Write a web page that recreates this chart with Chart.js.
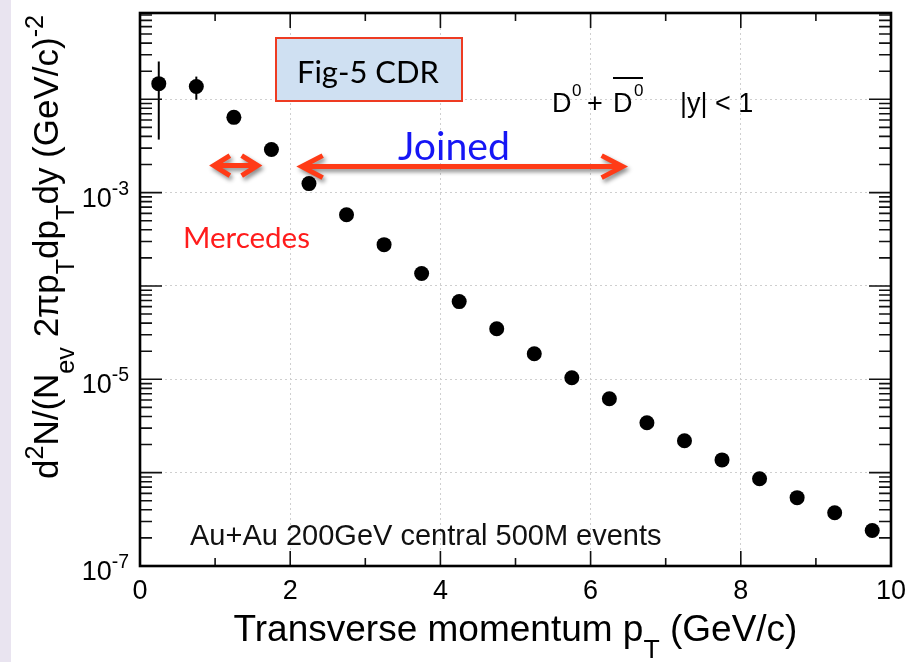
<!DOCTYPE html>
<html><head><meta charset="utf-8">
<script src="https://cdn.jsdelivr.net/npm/chart.js@4.4.1/dist/chart.umd.min.js"></script>
<style>
html,body{margin:0;padding:0;background:#fff;}
#wrap{position:relative;width:910px;height:662px;overflow:hidden;background:#fff;}
#strip{position:absolute;left:0;top:0;width:11px;height:662px;background:#e9e4f0;}
canvas{position:absolute;left:0;top:0;}
</style></head><body>
<div id="wrap"><div id="strip"></div><canvas id="c" width="910" height="662"></canvas></div>
<script>
// ---- data ----
const pt = [0.25,0.75,1.25,1.75,2.25,2.75,3.25,3.75,4.25,4.75,5.25,5.75,6.25,6.75,7.25,7.75,8.25,8.75,9.25,9.75];
const dNdpt = [1.47e-2,1.37e-2,6.4e-3,2.9e-3,1.25e-3,5.8e-4,2.77e-4,1.36e-4,6.8e-5,3.48e-5,1.88e-5,1.04e-5,6.2e-6,3.43e-6,2.2e-6,1.37e-6,8.6e-7,5.4e-7,3.72e-7,2.4e-7];
const errLow  = [3.7e-3,9.9e-3,null,null,null,null,null,null,null,null,null,null,null,null,null,null,null,null,null,null];
const errHigh = [2.54e-2,1.75e-2,null,null,null,null,null,null,null,null,null,null,null,null,null,null,null,null,null,null];
const xTickLabels = ['0','2','4','6','8','10'];
const xGridValues = [2,4,6,8];
const yTickLabelExps = [-7,-5,-3];
const yGridExps = [-6,-5,-4,-3,-2];
const arrowSpans = [{x1:0.93,x2:1.62,y:1.95e-3,hx:16,hy:10},{x1:2.10,x2:6.48,y:1.90e-3,hx:21,hy:11}];

const ROOTF = '"Liberation Sans", Arial, Helvetica, sans-serif';
const SLIDEF = 'Lato, "Open Sans", sans-serif';
const SS = 0.72;

function isDecade(v){ if(!(v>0)) return false; const l=Math.log10(v); return Math.abs(l-Math.round(l))<1e-6; }
function isIntMantissa(v){ const e=Math.floor(Math.log10(v)+1e-9); const m=v/Math.pow(10,e); return Math.abs(m-Math.round(m))<1e-4; }

function segFont(s,size){ const fs = s.t==='n'?size:size*SS; return fs+'px '+ROOTF; }
function richWidth(ctx,segs,size){ let w=0; for(const s of segs){ ctx.font=segFont(s,size); w+=ctx.measureText(s.s).width; } return w; }
function drawRich(ctx,segs,x,y,size){
  let cx=x;
  for(const s of segs){
    ctx.font=segFont(s,size);
    const dy = s.t==='sup' ? -size*0.42 : (s.t==='sub' ? size*0.45 : 0);
    ctx.fillText(s.s,cx,y+dy);
    cx+=ctx.measureText(s.s).width;
  }
}
function fitSize(ctx,text,family,target){ ctx.font='30px '+family; return 30*target/ctx.measureText(text).width; }

const yTitle = [{s:'d',t:'n'},{s:'2',t:'sup'},{s:'N/(N',t:'n'},{s:'ev',t:'sub'},{s:' 2\u03C0p',t:'n'},{s:'T',t:'sub'},{s:'dp',t:'n'},{s:'T',t:'sub'},{s:'dy (GeV/c)',t:'n'},{s:'-2',t:'sup'}];
const xTitle = [{s:'Transverse momentum p',t:'n'},{s:'T',t:'sub'},{s:' (GeV/c)',t:'n'}];

const errPlugin = {
  id:'errbars',
  beforeDatasetsDraw(chart){
    const ctx=chart.ctx, xs=chart.scales.x, ys=chart.scales.y;
    ctx.save(); ctx.strokeStyle='#000'; ctx.lineWidth=2;
    for(let i=0;i<pt.length;i++){
      if(errLow[i]==null) continue;
      const px=xs.getPixelForValue(pt[i]);
      ctx.beginPath(); ctx.moveTo(px,ys.getPixelForValue(errHigh[i])); ctx.lineTo(px,ys.getPixelForValue(errLow[i])); ctx.stroke();
    }
    ctx.restore();
  }
};

const framePlugin = {
  id:'frame',
  afterDraw(chart){
    const ctx=chart.ctx, ca=chart.chartArea, xs=chart.scales.x, ys=chart.scales.y;
    ctx.save();
    ctx.strokeStyle='#111'; ctx.lineWidth=1.6;
    ctx.beginPath();
    for(const t of xs.ticks){
      const px=xs.getPixelForValue(t.value); const L=(Math.round(t.value)%2===0)?15:8;
      ctx.moveTo(px,ca.bottom); ctx.lineTo(px,ca.bottom-L);
      ctx.moveTo(px,ca.top); ctx.lineTo(px,ca.top+L);
    }
    for(const t of ys.ticks){
      const v=t.value; if(!isIntMantissa(v)) continue;
      const py=ys.getPixelForValue(v); if(py<ca.top-0.5||py>ca.bottom+0.5) continue;
      const L=isDecade(v)?22:12;
      ctx.moveTo(ca.left,py); ctx.lineTo(ca.left+L,py);
      ctx.moveTo(ca.right,py); ctx.lineTo(ca.right-L,py);
    }
    ctx.stroke();
    ctx.strokeStyle='#000'; ctx.lineWidth=2.6;
    ctx.strokeRect(ca.left,ca.top,ca.right-ca.left,ca.bottom-ca.top);

    // y tick labels
    ctx.fillStyle='#000'; ctx.textBaseline='alphabetic'; ctx.textAlign='left';
    for(const e of yTickLabelExps){
      const py=ys.getPixelForValue(Math.pow(10,e));
      const sup=String(e);
      ctx.font=(27*SS)+'px '+ROOTF; const w2=ctx.measureText(sup).width;
      ctx.font='27px '+ROOTF; const w1=ctx.measureText('10').width;
      const right=ca.left-11;
      ctx.fillText('10',right-w2-w1,py+14);
      ctx.font=(27*SS)+'px '+ROOTF; ctx.fillText(sup,right-w2,py+2);
    }
    // axis titles
    const tS=37;
    const wx=richWidth(ctx,xTitle,tS);
    drawRich(ctx,xTitle,(ca.left+ca.right)/2-wx/2,641,tS);
    const tY=35;
    ctx.save(); ctx.translate(58,247); ctx.rotate(-Math.PI/2);
    const wy=richWidth(ctx,yTitle,tY);
    drawRich(ctx,yTitle,-wy/2,0,tY);
    ctx.restore();

    // D0 + D0bar |y|<1
    ctx.font='27px '+ROOTF; ctx.fillText('D',552,112);
    ctx.font='17px '+ROOTF; ctx.fillText('0',572,96);
    ctx.font='27px '+ROOTF; ctx.fillText('+',587,112);
    ctx.fillText('D',613,112);
    ctx.font='17px '+ROOTF; ctx.fillText('0',634,96);
    ctx.fillRect(613,77,30,2);
    ctx.font='27px '+ROOTF; ctx.fillText('|y| < 1',680,112);
    // Au+Au
    ctx.fillStyle='#111'; ctx.font='29px '+ROOTF; ctx.fillText('Au+Au 200GeV central 500M events',190,545);

    // slide annotations
    ctx.fillStyle='#cfe0f2'; ctx.fillRect(276,38,186,63);
    ctx.strokeStyle='#ee3b22'; ctx.lineWidth=2; ctx.strokeRect(276,38,186,63);
    ctx.fillStyle='#000'; let fs=fitSize(ctx,'Fig-5 CDR',SLIDEF,142); ctx.font=fs+'px '+SLIDEF; ctx.fillText('Fig-5 CDR',297,83);
    ctx.fillStyle='#1616f5'; fs=fitSize(ctx,'Joined',SLIDEF,112); ctx.font=fs+'px '+SLIDEF; ctx.fillText('Joined',398,160);
    ctx.fillStyle='#ff1c1c'; fs=fitSize(ctx,'Mercedes',SLIDEF,127); ctx.font=fs+'px '+SLIDEF; ctx.fillText('Mercedes',183,248);

    // arrows
    for(const a of arrowSpans){
      const x1=xs.getPixelForValue(a.x1), x2=xs.getPixelForValue(a.x2), y=ys.getPixelForValue(a.y);
      ctx.save();
      ctx.shadowColor='rgba(0,0,0,0.45)'; ctx.shadowBlur=4; ctx.shadowOffsetX=2; ctx.shadowOffsetY=3;
      ctx.strokeStyle='#ff3b17'; ctx.lineWidth=5; ctx.lineJoin='miter'; ctx.lineCap='butt';
      const hx=a.hx, hy=a.hy, inset=4;
      ctx.beginPath();
      ctx.moveTo(x1+inset,y); ctx.lineTo(x2-inset,y);
      ctx.moveTo(x1+inset+hx,y-hy); ctx.lineTo(x1+inset,y); ctx.lineTo(x1+inset+hx,y+hy);
      ctx.moveTo(x2-inset-hx,y-hy); ctx.lineTo(x2-inset,y); ctx.lineTo(x2-inset-hx,y+hy);
      ctx.stroke();
      ctx.restore();
    }
    ctx.restore();
  }
};

new Chart(document.getElementById('c'),{
  type:'scatter',
  data:{datasets:[{data:pt.map((x,i)=>({x:x,y:dNdpt[i]})),backgroundColor:'#000',borderColor:'#000',borderWidth:0,pointRadius:7.5,pointHoverRadius:7.5,showLine:false}]},
  options:{
    responsive:false, animation:false,
    layout:{padding:{left:0,top:13,right:19,bottom:0}},
    plugins:{legend:{display:false},tooltip:{enabled:false},title:{display:false}},
    scales:{
      x:{type:'linear',min:0,max:10,
        ticks:{stepSize:1,autoSkip:false,maxRotation:0,padding:9,color:'#000',font:{family:ROOTF,size:27},
          callback:(v)=>xTickLabels.includes(String(v))?String(v):''},
        grid:{drawTicks:false,lineWidth:1,color:(c)=>(c.tick&&xGridValues.includes(c.tick.value))?'#cfcfcf':'rgba(0,0,0,0)'},
        border:{display:false,dash:[2,3]},
        afterFit:(s)=>{s.height=96; s.paddingLeft=0; s.paddingRight=0;}},
      y:{type:'logarithmic',min:1e-7,max:0.084,
        ticks:{display:false},
        grid:{drawTicks:false,lineWidth:1,color:(c)=>(c.tick&&isDecade(c.tick.value)&&yGridExps.includes(Math.round(Math.log10(c.tick.value))))?'#cfcfcf':'rgba(0,0,0,0)'},
        border:{display:false,dash:[2,3]},
        afterFit:(s)=>{s.width=140; s.paddingTop=0; s.paddingBottom=0;}}
    }
  },
  plugins:[errPlugin,framePlugin]
});
</script>
</body></html>
